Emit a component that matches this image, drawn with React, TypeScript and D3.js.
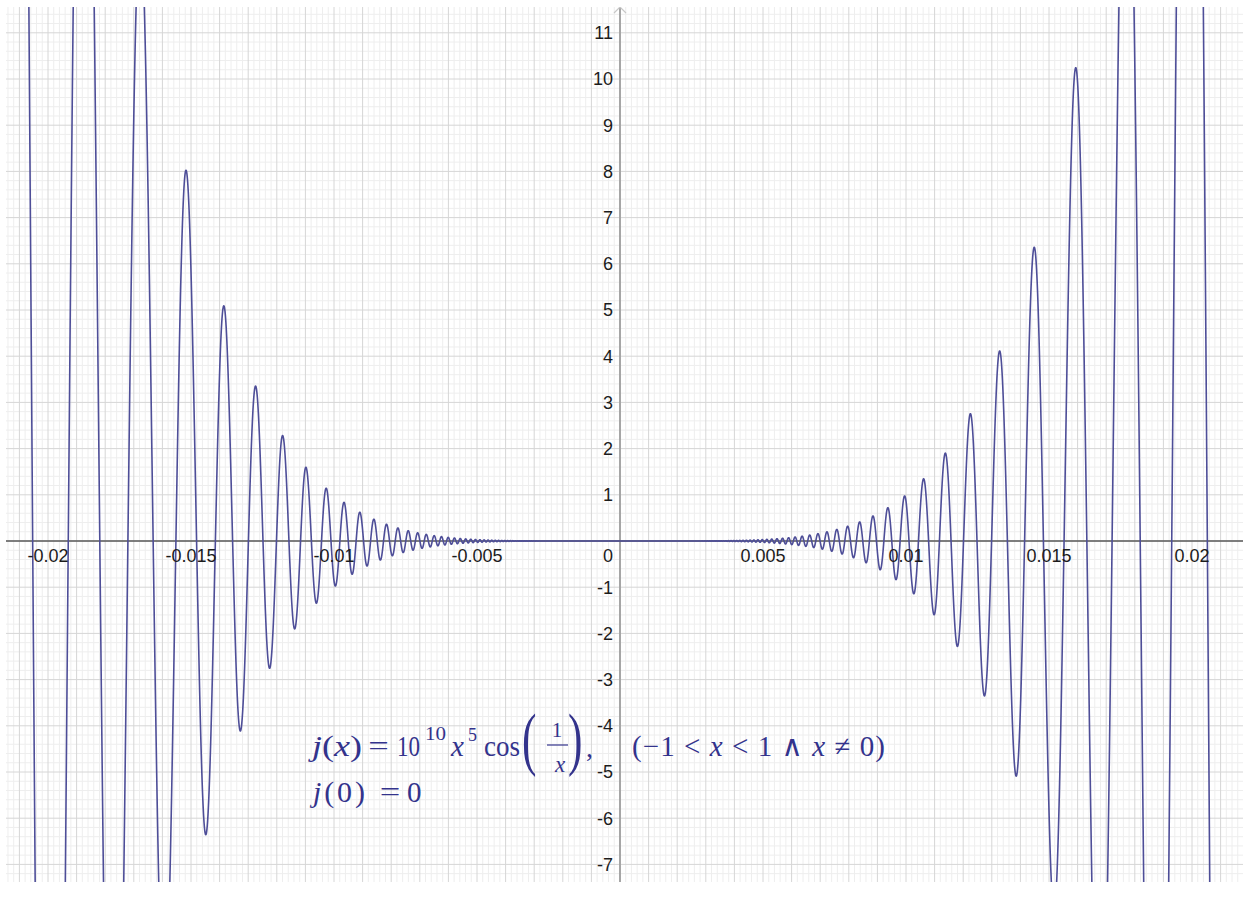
import React from "react";
import * as d3 from "d3";

// ---- Chart content ----
// The plotted function is the one printed on the chart: j(x) = 10^10 x^5 cos(1/x), j(0)=0
const COEFFICIENT = 1e10;
const POWER = 5;
const xDomainVisible = [-0.02147, 0.02178];
const yDomainVisible = [-7.37, 11.56];
const xTickValues = [-0.02, -0.015, -0.01, -0.005, 0.005, 0.01, 0.015, 0.02];
const xTickLabels = ["-0.02", "-0.015", "-0.01", "-0.005", "0.005", "0.01", "0.015", "0.02"];
const yTickValues = [-7, -6, -5, -4, -3, -2, -1, 1, 2, 3, 4, 5, 6, 7, 8, 9, 10, 11];
const yTickLabels = ["-7", "-6", "-5", "-4", "-3", "-2", "-1", "1", "2", "3", "4", "5", "6", "7", "8", "9", "10", "11"];
const xMajorStep = 0.001;
const yMajorStep = 1;
const minorDivisions = 5;

const W = 1243;
const H = 909;
const PLOT = { left: 6, top: 7, right: 1243, bottom: 882 };

const j = (x: number) => (x === 0 ? 0 : COEFFICIENT * Math.pow(x, POWER) * Math.cos(1 / x));

export default function App() {
  const xs = d3.scaleLinear().domain([-0.02, 0.02]).range([48, 1192]);
  const ys = d3.scaleLinear().domain([0, 11]).range([541, 32.8]);

  const x0 = xDomainVisible[0];
  const x1 = xDomainVisible[1];
  const pxStep = 0.05;
  const n = Math.ceil((xs(x1) - xs(x0)) / pxStep);
  const pts: [number, number][] = [];
  for (let i = 0; i <= n; i++) {
    const xv = xs.invert(xs(x0) + i * pxStep);
    pts.push([xv, j(xv)]);
  }
  const line = d3
    .line<[number, number]>()
    .x((d) => xs(d[0]))
    .y((d) => Math.max(-2000, Math.min(3000, ys(d[1]))));
  const pathD = line(pts) || "";

  // grid
  const vMinor: number[] = [];
  const vMajor: number[] = [];
  for (let k = Math.ceil(x0 / (xMajorStep / minorDivisions)); k * (xMajorStep / minorDivisions) <= x1; k++) {
    const v = k * (xMajorStep / minorDivisions);
    if (k % minorDivisions === 0) vMajor.push(v);
    else vMinor.push(v);
  }
  const hMinor: number[] = [];
  const hMajor: number[] = [];
  for (let k = Math.ceil(yDomainVisible[0] * minorDivisions); k / minorDivisions <= yDomainVisible[1]; k++) {
    const v = k / minorDivisions;
    if (k % minorDivisions === 0) hMajor.push(v * yMajorStep);
    else hMinor.push(v * yMajorStep);
  }

  const axisX = xs(0);
  const axisY = ys(0);
  const fc = "#33338c";
  const serif = "'Liberation Serif', 'DejaVu Serif', serif";
  const sans = "'Liberation Sans', Arial, sans-serif";

  return (
    <div style={{ position: "absolute", left: 0, top: 0 }}>
      <svg width={W} height={H} style={{ display: "block", background: "#fff" }}>
        <defs>
          <clipPath id="plotclip">
            <rect x={PLOT.left} y={PLOT.top} width={PLOT.right - PLOT.left} height={PLOT.bottom - PLOT.top} />
          </clipPath>
        </defs>
        <g clipPath="url(#plotclip)">
          {vMinor.map((v, i) => (
            <line key={"vm" + i} x1={xs(v)} x2={xs(v)} y1={PLOT.top} y2={PLOT.bottom} stroke="#eeeeee" strokeWidth={1} />
          ))}
          {hMinor.map((v, i) => (
            <line key={"hm" + i} y1={ys(v)} y2={ys(v)} x1={PLOT.left} x2={PLOT.right} stroke="#eeeeee" strokeWidth={1} />
          ))}
          {vMajor.map((v, i) => (
            <line key={"vM" + i} x1={xs(v)} x2={xs(v)} y1={PLOT.top} y2={PLOT.bottom} stroke="#d6d6d6" strokeWidth={1} />
          ))}
          {hMajor.map((v, i) => (
            <line key={"hM" + i} y1={ys(v)} y2={ys(v)} x1={PLOT.left} x2={PLOT.right} stroke="#d6d6d6" strokeWidth={1} />
          ))}
          {/* axes */}
          <line x1={axisX} x2={axisX} y1={PLOT.top} y2={PLOT.bottom} stroke="#a6a6a6" strokeWidth={2} />
          <line y1={axisY} y2={axisY} x1={PLOT.left} x2={PLOT.right} stroke="#5a5a5a" strokeWidth={1.5} />
          <path d={`M${axisX - 6},${PLOT.top + 6} L${axisX},${PLOT.top} L${axisX + 6},${PLOT.top + 6}`} fill="none" stroke="#c8c8c8" strokeWidth={1.2} />
          {/* curve */}
          <path d={pathD} fill="none" stroke="#4e4e98" strokeWidth={1.6} strokeLinejoin="round" />
        </g>

        {/* tick labels */}
        <g fontFamily={sans} fontSize={18} fill="#1c1c1c">
          {xTickValues.map((v, i) => (
            <text key={"xt" + i} x={xs(v)} y={axisY + 21} textAnchor="middle">
              {xTickLabels[i]}
            </text>
          ))}
          {yTickValues.map((v, i) => (
            <text key={"yt" + i} x={axisX - 7} y={ys(v)} dy="0.36em" textAnchor="end">
              {yTickLabels[i]}
            </text>
          ))}
          <text x={axisX - 7} y={axisY + 21} textAnchor="end">0</text>
        </g>

        {/* formula */}
        <g fill={fc} fontFamily={serif}>
          <text x={312} y={756} fontSize={30} textLength={50} lengthAdjust="spacingAndGlyphs">
            <tspan fontStyle="italic">j</tspan>
            <tspan>(</tspan>
            <tspan fontStyle="italic">x</tspan>
            <tspan>)</tspan>
          </text>
          <text x={0} y={0} fontSize={28} textAnchor="middle" transform="translate(378.5,755) scale(1.3,1)">=</text>
          <text x={397} y={756} fontSize={29} textLength={23} lengthAdjust="spacingAndGlyphs">10</text>
          <text x={425} y={740} fontSize={18} textLength={21} lengthAdjust="spacingAndGlyphs">10</text>
          <text x={451} y={756} fontSize={29} fontStyle="italic">x</text>
          <text x={468} y={741} fontSize={18}>5</text>
          <text x={484} y={756} fontSize={29} textLength={36} lengthAdjust="spacingAndGlyphs">cos</text>
          <text x={0} y={0} fontSize={70} transform="translate(522,762) scale(0.62,1)">(</text>
          <text x={557} y={737} fontSize={21} textAnchor="middle">1</text>
          <line x1={547} x2={568} y1={745} y2={745} stroke={fc} strokeWidth={1.2} />
          <text x={560} y={772} fontSize={23} fontStyle="italic" textAnchor="middle">x</text>
          <text x={0} y={0} fontSize={70} transform="translate(568,762) scale(0.62,1)">)</text>
          <text x={586} y={757} fontSize={28}>,</text>
          <text x={632} y={756} fontSize={29} textLength={253} lengthAdjust="spacing">
            <tspan>(−1 &lt; </tspan>
            <tspan fontStyle="italic">x</tspan>
            <tspan> &lt; 1 ∧ </tspan>
            <tspan fontStyle="italic">x</tspan>
            <tspan> ≠ 0)</tspan>
          </text>
          <text x={313} y={802} fontSize={30} textLength={52} lengthAdjust="spacing">
            <tspan fontStyle="italic">j</tspan>
            <tspan>(0)</tspan>
          </text>
          <text x={0} y={0} fontSize={28} textAnchor="middle" transform="translate(390,801) scale(1.3,1)">=</text>
          <text x={407} y={802} fontSize={29}>0</text>
        </g>
      </svg>
    </div>
  );
}
